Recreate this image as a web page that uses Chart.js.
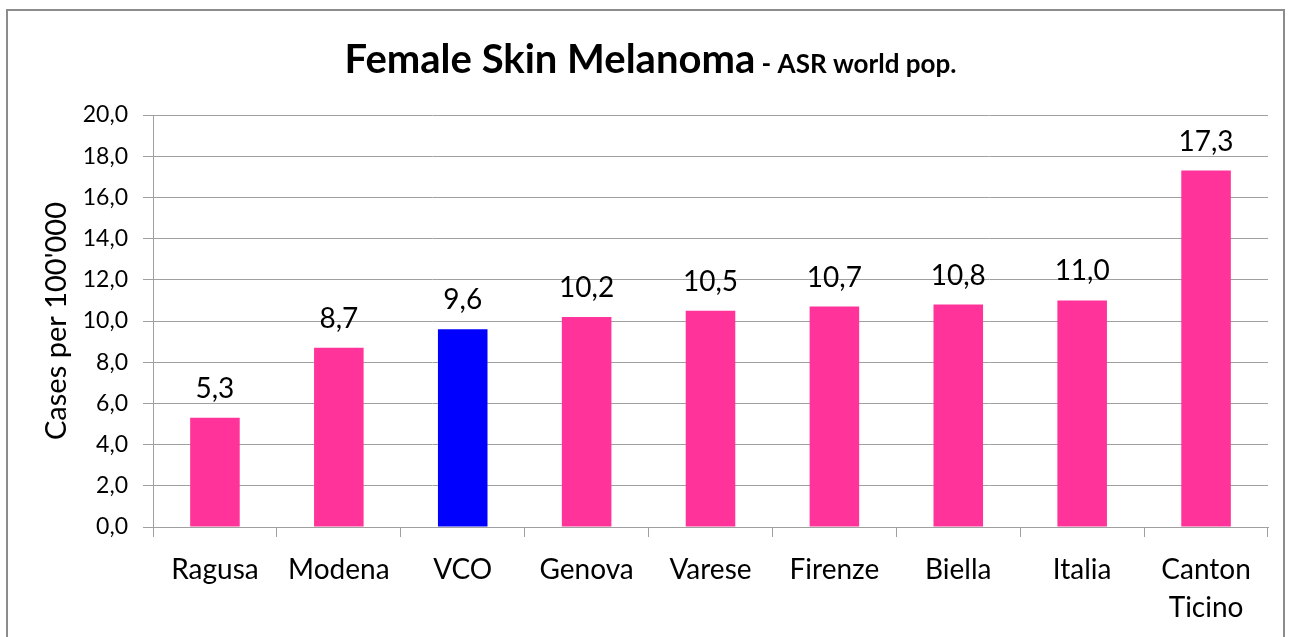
<!DOCTYPE html>
<html>
<head>
<meta charset="utf-8">
<script src="https://cdn.jsdelivr.net/npm/chart.js@4"></script>
<style>
  html, body { margin: 0; padding: 0; background: #fff; overflow: hidden; }
  #wrap { position: relative; width: 1293px; height: 637px; }
  #frame { position: absolute; left: 6px; top: 9px; width: 1279px; height: 640px; border: 2px solid #8c8c8c; box-sizing: border-box; }
  #chart { position: absolute; left: 0; top: 0; }
</style>
</head>
<body>
<div id="wrap">
  <div id="frame"></div>
  <canvas id="chart" width="1293" height="637"></canvas>
</div>
<script>
const categories = ['Ragusa', 'Modena', 'VCO', 'Genova', 'Varese', 'Firenze', 'Biella', 'Italia', ['Canton', 'Ticino']];
const asrValues = [5.3, 8.7, 9.6, 10.2, 10.5, 10.7, 10.8, 11.0, 17.3];
const barColors = ['#FF3399', '#FF3399', '#0000FF', '#FF3399', '#FF3399', '#FF3399', '#FF3399', '#FF3399', '#FF3399'];
const titleMain = 'Female Skin Melanoma';
const titleSub = ' - ASR world pop.';
const yTitle = "Cases per 100'000";

const FONT = 'Lato, "Liberation Sans", sans-serif';

function fmt(v) {
    return v.toFixed(1).replace('.', ',');
}

// titolo con due dimensioni di carattere
const titlePlugin = {
    id: 'doubleTitle',
    afterDraw(chart) {
        const ctx = chart.ctx;
        ctx.save();
        ctx.fillStyle = '#000';
        ctx.textBaseline = 'alphabetic';
        ctx.font = 'bold 40px ' + FONT;
        const w1 = ctx.measureText(titleMain).width;
        ctx.font = 'bold 26px ' + FONT;
        const w2 = ctx.measureText(titleSub).width;
        let x = chart.width / 2 + 4 - (w1 + w2) / 2;
        ctx.textAlign = 'left';
        ctx.font = 'bold 40px ' + FONT;
        ctx.fillText(titleMain, x, 73);
        ctx.font = 'bold 26px ' + FONT;
        ctx.fillText(titleSub, x + w1, 73);
        ctx.restore();
    }
};

// etichette dei valori sopra le barre
const valueLabels = {
    id: 'valueLabels',
    afterDatasetsDraw(chart) {
        const ctx = chart.ctx;
        const meta = chart.getDatasetMeta(0);
        ctx.save();
        ctx.font = '28px ' + FONT;
        ctx.fillStyle = '#000';
        ctx.textAlign = 'center';
        ctx.textBaseline = 'middle';
        meta.data.forEach((bar, i) => {
            ctx.fillText(fmt(asrValues[i]), bar.x, bar.y - 29);
        });
        ctx.restore();
    }
};

const ctx = document.getElementById('chart').getContext('2d');
new Chart(ctx, {
    type: 'bar',
    data: {
        labels: categories,
        datasets: [{
            data: asrValues,
            backgroundColor: barColors,
            borderWidth: 0,
            barPercentage: 0.4,
            categoryPercentage: 1.0
        }]
    },
    options: {
        responsive: false,
        animation: false,
        layout: {
            padding: { left: 27, top: 115, right: 25, bottom: 0 }
        },
        plugins: {
            legend: { display: false },
            tooltip: { enabled: false },
            title: { display: false }
        },
        scales: {
            x: {
                grid: {
                    offset: true,
                    drawOnChartArea: false,
                    drawTicks: true,
                    tickLength: 10,
                    color: '#a0a0a0'
                },
                border: { color: '#a0a0a0', width: 1 },
                ticks: {
                    color: '#000',
                    padding: 14,
                    maxRotation: 0,
                    autoSkip: false,
                    font: { family: FONT, size: 28, lineHeight: 1.36 }
                },
                afterFit(scale) { scale.height = 637 - 527; }
            },
            y: {
                min: 0,
                max: 20,
                ticks: {
                    stepSize: 2,
                    color: '#000',
                    padding: 15,
                    font: { family: FONT, size: 23 },
                    callback: v => fmt(v)
                },
                grid: {
                    color: '#a0a0a0',
                    tickLength: 10
                },
                border: { color: '#a0a0a0', width: 1 },
                title: {
                    display: true,
                    text: yTitle,
                    color: '#000',
                    font: { family: FONT, size: 29, lineHeight: 1.2 },
                    padding: { top: 12, bottom: 0 }
                },
                afterFit(scale) { scale.width = 153 - 27; }
            }
        }
    },
    plugins: [titlePlugin, valueLabels]
});
</script>
</body>
</html>
